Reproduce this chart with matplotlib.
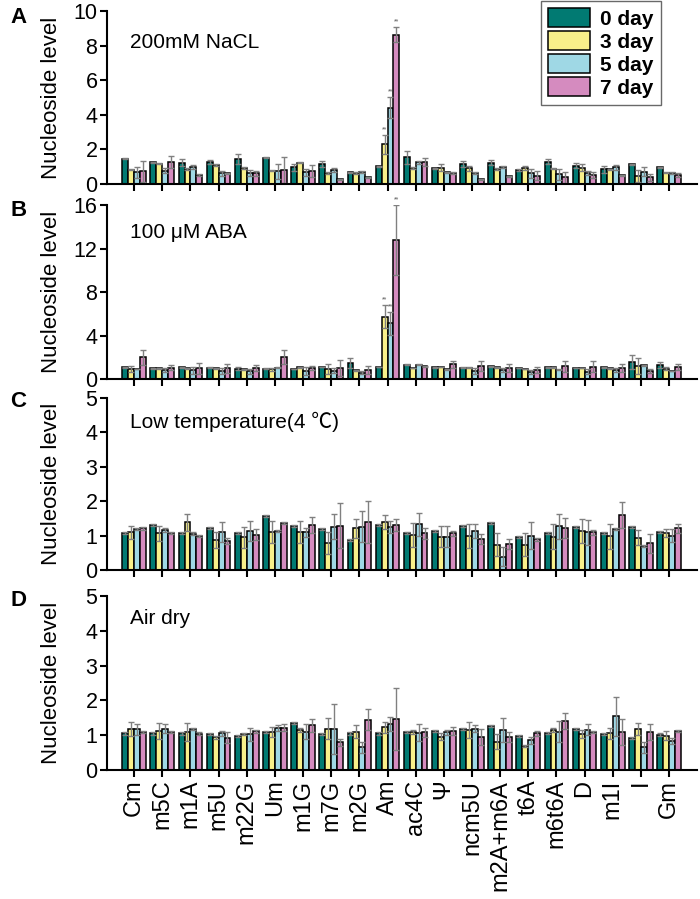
import numpy as np
import matplotlib
matplotlib.use('Agg')
import matplotlib.pyplot as plt

plt.rcParams['font.family'] = ['Liberation Sans', 'Noto Sans CJK SC', 'DejaVu Sans']

categories = ['Cm', 'm5C', 'm1A', 'm5U', 'm22G', 'Um', 'm1G', 'm7G', 'm2G', 'Am',
              'ac4C', 'Ψ', 'ncm5U', 'm2A+m6A', 't6A', 'm6t6A', 'D', 'm1I', 'I', 'Gm']
days = ['0 day', '3 day', '5 day', '7 day']
colors = ['#017a72', '#f8f08a', '#9fd8e5', '#d58bbf']

# panel A: 200mM NaCl, columns = 0/3/5/7 day
nacl_vals = [[1.45, 0.82, 0.67, 0.73], [1.25, 1.18, 0.78, 1.25], [1.22, 0.88, 0.98, 0.53],
             [1.27, 1.08, 0.63, 0.63], [1.45, 0.92, 0.63, 0.63], [1.51, 0.78, 0.73, 0.82],
             [0.98, 1.22, 0.67, 0.73], [1.16, 0.63, 0.82, 0.27], [0.67, 0.64, 0.71, 0.40],
             [1.02, 2.29, 4.41, 8.63], [1.54, 0.94, 1.25, 1.25], [0.90, 0.94, 0.67, 0.65],
             [1.16, 0.90, 0.65, 0.27], [1.23, 0.85, 1.00, 0.46], [0.81, 0.94, 0.62, 0.48],
             [1.29, 0.89, 0.56, 0.38], [1.06, 0.94, 0.65, 0.52], [0.85, 0.85, 0.96, 0.52],
             [1.14, 0.46, 0.71, 0.38], [0.96, 0.65, 0.62, 0.50]]
nacl_err = [[0.03, 0.03, 0.30, 0.60], [0.03, 0.03, 0.15, 0.35], [0.20, 0.05, 0.10, 0.05],
            [0.12, 0.05, 0.15, 0.03], [0.28, 0.05, 0.18, 0.15], [0.03, 0.05, 0.42, 0.75],
            [0.20, 0.03, 0.20, 0.35], [0.15, 0.05, 0.10, 0.03], [0.03, 0.05, 0.05, 0.03],
            [0.05, 0.54, 0.60, 0.42], [0.37, 0.05, 0.10, 0.23], [0.05, 0.20, 0.05, 0.05],
            [0.20, 0.17, 0.05, 0.03], [0.15, 0.05, 0.05, 0.03], [0.03, 0.12, 0.25, 0.27],
            [0.14, 0.03, 0.30, 0.33], [0.14, 0.20, 0.10, 0.15], [0.20, 0.03, 0.14, 0.03],
            [0.03, 0.35, 0.25, 0.20], [0.03, 0.03, 0.05, 0.12]]

# panel B: 100 uM ABA
aba_vals = [[1.07, 0.92, 0.92, 2.00], [0.98, 0.98, 0.80, 1.04], [1.07, 0.98, 0.80, 0.98],
            [1.04, 0.98, 0.74, 0.98], [0.95, 0.89, 0.70, 0.98], [0.95, 0.89, 1.04, 2.00],
            [0.92, 1.07, 0.74, 1.01], [1.10, 0.95, 0.77, 1.01], [1.47, 0.80, 0.58, 0.86],
            [1.10, 5.73, 5.12, 12.78], [1.32, 1.01, 1.32, 1.17], [1.07, 1.10, 0.89, 1.35],
            [1.04, 1.04, 0.74, 1.23], [1.17, 1.07, 0.80, 1.01], [1.01, 0.92, 0.67, 0.83],
            [1.07, 1.07, 0.86, 1.17], [1.01, 1.01, 0.67, 1.13], [1.07, 0.98, 0.86, 0.98],
            [1.56, 1.17, 1.26, 0.74], [1.29, 0.95, 0.74, 1.10]]
aba_err = [[0.03, 0.25, 0.03, 0.70], [0.03, 0.03, 0.18, 0.25], [0.03, 0.05, 0.30, 0.50],
           [0.03, 0.03, 0.25, 0.40], [0.12, 0.03, 0.20, 0.28], [0.03, 0.15, 0.03, 0.65],
           [0.03, 0.05, 0.35, 0.20], [0.03, 0.45, 0.20, 0.75], [0.50, 0.03, 0.15, 0.37],
           [0.03, 1.05, 1.04, 3.20], [0.05, 0.03, 0.03, 0.03], [0.03, 0.03, 0.03, 0.35],
           [0.03, 0.03, 0.25, 0.45], [0.03, 0.05, 0.20, 0.40], [0.03, 0.03, 0.20, 0.28],
           [0.03, 0.03, 0.03, 0.50], [0.03, 0.03, 0.25, 0.50], [0.03, 0.05, 0.18, 0.37],
           [0.65, 0.75, 0.05, 0.18], [0.28, 0.15, 0.03, 0.28]]

# panel C: low temperature
cold_vals = [[1.08, 1.10, 1.19, 1.21], [1.32, 1.07, 1.16, 1.07], [1.08, 1.38, 1.05, 0.99],
             [1.22, 0.86, 1.09, 0.84], [1.08, 0.95, 1.13, 1.03], [1.58, 1.09, 1.12, 1.36],
             [1.28, 1.09, 1.09, 1.30], [1.18, 0.78, 1.26, 1.29], [0.86, 1.21, 1.26, 1.39],
             [1.31, 1.39, 1.25, 1.30], [1.08, 1.02, 1.33, 1.07], [1.13, 0.97, 0.97, 1.07],
             [1.28, 0.99, 1.13, 0.91], [1.37, 0.74, 0.39, 0.75], [0.97, 0.74, 1.00, 0.89],
             [1.07, 0.97, 1.27, 1.22], [1.26, 1.12, 1.09, 1.09], [1.08, 0.98, 1.19, 1.59],
             [1.25, 0.94, 0.70, 0.77], [1.10, 1.08, 1.00, 1.21]]
cold_err = [[0.03, 0.19, 0.03, 0.05], [0.03, 0.22, 0.06, 0.03], [0.03, 0.24, 0.04, 0.03],
            [0.03, 0.23, 0.29, 0.08], [0.03, 0.31, 0.29, 0.16], [0.03, 0.32, 0.03, 0.03],
            [0.03, 0.32, 0.13, 0.23], [0.03, 0.31, 0.36, 0.66], [0.03, 0.27, 0.46, 0.62],
            [0.03, 0.21, 0.18, 0.18], [0.03, 0.34, 0.34, 0.16], [0.03, 0.30, 0.30, 0.07],
            [0.03, 0.34, 0.21, 0.15], [0.03, 0.34, 0.27, 0.15], [0.03, 0.33, 0.40, 0.05],
            [0.03, 0.36, 0.36, 0.28], [0.03, 0.35, 0.36, 0.08], [0.03, 0.37, 0.03, 0.38],
            [0.03, 0.21, 0.03, 0.27], [0.03, 0.12, 0.19, 0.14]]

# panel D: air dry
dry_vals = [[1.05, 1.19, 1.17, 1.10], [1.05, 1.13, 1.19, 1.10], [1.05, 1.10, 1.17, 1.04],
            [1.03, 0.94, 1.05, 0.93], [0.98, 1.04, 1.03, 1.11], [1.08, 1.10, 1.20, 1.22],
            [1.35, 1.15, 1.10, 1.28], [1.03, 1.19, 1.17, 0.80], [1.05, 1.10, 0.65, 1.45],
            [1.05, 1.23, 1.32, 1.47], [1.08, 1.10, 1.07, 1.08], [1.13, 0.96, 1.08, 1.13],
            [1.18, 1.15, 1.18, 0.95], [1.27, 0.81, 1.15, 0.95], [0.98, 0.70, 0.85, 1.05],
            [1.06, 1.14, 1.10, 1.41], [1.17, 1.03, 1.16, 1.10], [1.04, 1.05, 1.54, 1.10],
            [0.91, 1.17, 0.65, 1.09], [1.02, 0.99, 0.84, 1.11]]
dry_err = [[0.03, 0.20, 0.15, 0.03], [0.03, 0.23, 0.12, 0.03], [0.03, 0.26, 0.03, 0.04],
           [0.03, 0.05, 0.08, 0.15], [0.03, 0.03, 0.19, 0.05], [0.03, 0.15, 0.09, 0.10],
           [0.03, 0.05, 0.21, 0.18], [0.03, 0.30, 0.72, 0.10], [0.03, 0.18, 0.15, 0.29],
           [0.03, 0.16, 0.20, 0.90], [0.03, 0.06, 0.25, 0.14], [0.03, 0.10, 0.06, 0.12],
           [0.03, 0.24, 0.10, 0.22], [0.03, 0.22, 0.35, 0.15], [0.03, 0.03, 0.09, 0.08],
           [0.03, 0.06, 0.30, 0.22], [0.03, 0.12, 0.16, 0.03], [0.03, 0.17, 0.55, 0.38],
           [0.03, 0.17, 0.15, 0.22], [0.03, 0.14, 0.08, 0.03]]

panels = [
    ('A', '200mM NaCL', nacl_vals, nacl_err, 10, [0, 2, 4, 6, 8, 10]),
    ('B', '100 μM ABA', aba_vals, aba_err, 16, [0, 4, 8, 12, 16]),
    ('C', 'Low temperature(4 ℃)', cold_vals, cold_err, 5, [0, 1, 2, 3, 4, 5]),
    ('D', 'Air dry', dry_vals, dry_err, 5, [0, 1, 2, 3, 4, 5]),
]
# bottom/height of each panel in figure fraction
boxes = [(0.7953, 0.1924), (0.5784, 0.1935), (0.3660, 0.1913), (0.1435, 0.1935)]
letter_y = [0.980, 0.766, 0.553, 0.332]
title_y = [0.82, 0.845, 0.86, 0.87]
star_index = 9  # Am

fig = plt.figure(figsize=(7, 8.99), dpi=100)
x = np.arange(len(categories))
w = 0.21
axes = []
for k, (letter, title, vals, errs, ymax, yticks) in enumerate(panels):
    bottom, height = boxes[k]
    ax = fig.add_axes([0.153, bottom, 0.843, height])
    vals = np.array(vals)
    errs = np.array(errs)
    for j in range(4):
        ax.bar(x + (j - 1.5) * w, vals[:, j], width=w, color=colors[j], edgecolor='black',
               linewidth=1.1, yerr=errs[:, j], ecolor='#808080',
               error_kw=dict(elinewidth=1.0, capsize=2.5, capthick=1.0), label=days[j], zorder=2)
    if letter in ('A', 'B'):
        for j in (1, 2, 3):
            top = vals[star_index, j] + errs[star_index, j]
            ax.text(star_index + (j - 1.5) * w, top + ymax * 0.01, '**', ha='center', va='bottom',
                    fontsize=5, color='#555555')
    ax.set_xlim(-0.96, 20.0)
    ax.set_ylim(0, ymax)
    ax.set_yticks(yticks)
    ax.set_xticks(x)
    ax.spines['top'].set_visible(False)
    ax.spines['right'].set_visible(False)
    ax.spines['left'].set_linewidth(1.5)
    ax.spines['bottom'].set_linewidth(1.5)
    ax.tick_params(axis='both', direction='out', length=5, width=1.5, labelsize=15.5, pad=2)
    ax.set_ylabel('Nucleoside level', fontsize=16)
    ax.yaxis.set_label_coords(-0.076, 0.5)
    if letter == 'D':
        ax.set_xticklabels(categories, rotation=90, fontsize=17)
    else:
        ax.set_xticklabels([])
    ax.text(0.039, title_y[k], title, transform=ax.transAxes, fontsize=15, va='center', ha='left')
    fig.text(0.026, letter_y[k], letter, fontsize=16, fontweight='bold', va='center', ha='center')
    axes.append(ax)

handles, labels = axes[0].get_legend_handles_labels()
leg = fig.legend(handles, labels, loc='upper right', bbox_to_anchor=(0.944, 0.999),
                 prop=dict(size=15, weight='bold'), frameon=True, fancybox=False,
                 edgecolor='#444444', handlelength=2.0, handleheight=1.0,
                 labelspacing=0.12, borderpad=0.35, handletextpad=0.5, borderaxespad=0.0)
leg.get_frame().set_linewidth(1.0)

plt.savefig('out.png', dpi=100)
